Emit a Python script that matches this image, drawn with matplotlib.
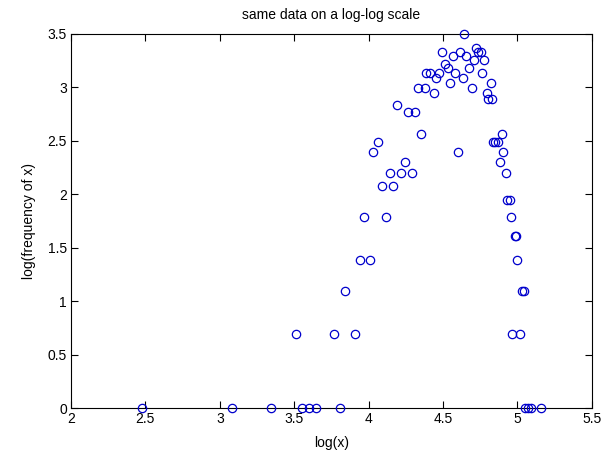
import numpy as np
import matplotlib.pyplot as plt

plt.rcParams['font.family'] = ['Liberation Sans', 'DejaVu Sans']

# frequency (counts), grouped by level, with the log(x) positions
freq = [1]*11 + [2]*5 + [3]*3 + [4]*3 + [5]*2 + [6]*3 + [7]*2 + [8]*2 + [9]*4 \
    + [10]*2 + [11]*3 + [12]*4 + [13]*2 + [16]*2 + [17] + [18]*2 + [19]*2 \
    + [20]*3 + [21]*2 + [22]*2 + [23]*5 + [24]*2 + [25] + [26]*2 + [27]*2 \
    + [28]*4 + [29] + [33]

logx = [
    2.478, 3.084, 3.346, 3.550, 3.602, 3.647, 3.811, 5.051, 5.072, 5.090, 5.161,  # 1
    3.510, 3.766, 3.909, 4.964, 5.020,  # 2
    3.840, 5.029, 5.045,  # 3
    3.943, 4.006, 5.000,  # 4
    4.982, 4.991,  # 5
    3.968, 4.114, 4.957,  # 6
    4.932, 4.948,  # 7
    4.087, 4.163,  # 8
    4.141, 4.217, 4.291, 4.924,  # 9
    4.244, 4.881,  # 10
    4.028, 4.598, 4.906,  # 11
    4.064, 4.834, 4.847, 4.867,  # 12
    4.354, 4.899,  # 13
    4.266, 4.310,  # 16
    4.192,  # 17
    4.802, 4.831,  # 18
    4.439, 4.793,  # 19
    4.334, 4.378, 4.695,  # 20
    4.547, 4.822,  # 21
    4.455, 4.634,  # 22
    4.387, 4.410, 4.475, 4.580, 4.762,  # 23
    4.533, 4.675,  # 24
    4.513,  # 25
    4.708, 4.777,  # 26
    4.567, 4.656,  # 27
    4.490, 4.616, 4.735, 4.755,  # 28
    4.719,  # 29
    4.642,  # 33
]

x_ticks = [2, 2.5, 3, 3.5, 4, 4.5, 5, 5.5]
y_ticks = [0, 0.5, 1, 1.5, 2, 2.5, 3, 3.5]

fig = plt.figure(figsize=(6.07, 4.59), dpi=100)
ax = fig.add_axes([0.117, 0.111, 0.858, 0.815])

ax.plot(logx, np.log(freq), 'o', mfc='none', mec='#0000cc', ms=6, mew=0.9,
        clip_on=False, zorder=3)

ax.set_xlim(2, 5.5)
ax.set_ylim(0, 3.5)
ax.set_xticks(x_ticks)
ax.set_xticklabels(['2', '2.5', '3', '3.5', '4', '4.5', '5', '5.5'])
ax.set_yticks(y_ticks)
ax.set_yticklabels(['0', '0.5', '1', '1.5', '2', '2.5', '3', '3.5'])
ax.tick_params(direction='in', top=True, right=True, length=5, width=0.8,
               labelsize=10, pad=3)
for s in ax.spines.values():
    s.set_linewidth(0.8)

ax.set_title('same data on a log-log scale', fontsize=10, pad=11)
ax.set_xlabel('log(x)', fontsize=10, labelpad=7)
ax.set_ylabel('log(frequency of x)', fontsize=10, labelpad=8)

fig.savefig('out.png', dpi=100)
